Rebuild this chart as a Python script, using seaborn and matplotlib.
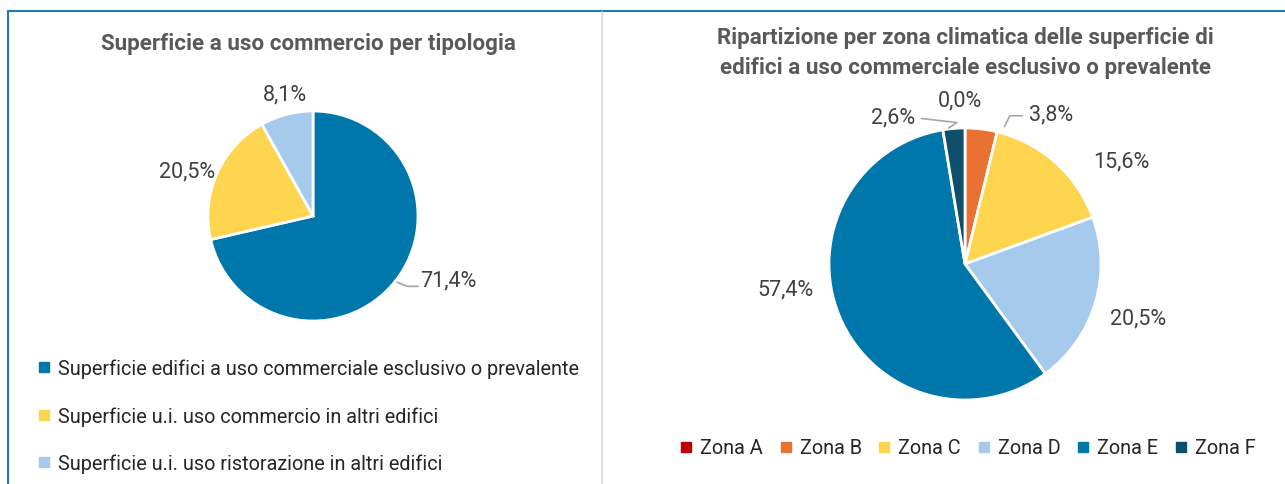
import numpy as np
import seaborn as sns
import matplotlib.pyplot as plt
from matplotlib.lines import Line2D

# -----------------------
# Data
# -----------------------
tipo_labels = [
    "Superficie edifici a uso commerciale esclusivo o prevalente",
    "Superficie u.i. uso commercio in altri edifici",
    "Superficie u.i. uso ristorazione in altri edifici",
]
tipo_values = [71.4, 20.5, 8.1]
tipo_colors = ["#0077AB", "#FFD54F", "#A6CAEC"]

zona_labels = ["Zona A", "Zona B", "Zona C", "Zona D", "Zona E", "Zona F"]
zona_values = [0.0, 3.8, 15.6, 20.5, 57.4, 2.6]
zona_colors = ["#C00000", "#E97132", "#FFD54F", "#A6CAEC", "#0077AB", "#0E4F6B"]

# -----------------------
# Setup
# -----------------------
sns.set_theme(style="white")
plt.rcParams["font.family"] = ["Roboto", "DejaVu Sans"]
LBL = "#404040"
TTL = "#595959"
LFS = 15.5   # pie labels
GFS = 14.3   # legend
TFS = 16.1   # titles


def pct(v):
    return f"{v:.1f}".replace(".", ",") + "%"


fig = plt.figure(figsize=(12.85, 4.85), dpi=100)

# frame lines
fig.add_artist(Line2D([8 / 1285, 1], [1 - 12 / 485] * 2, color="#1A7DB8", lw=1.5))
fig.add_artist(Line2D([8 / 1285] * 2, [0, 1 - 12 / 485], color="#1A7DB8", lw=1.5))
fig.add_artist(Line2D([602 / 1285] * 2, [0, 1 - 13 / 485], color="#D9D9D9", lw=1.2))

# -----------------------
# Left pie
# -----------------------
ax1 = fig.add_axes([208 / 1285, (485 - 322) / 485, 210 / 1285, 210 / 485])
wedges1, _ = ax1.pie(tipo_values, colors=tipo_colors, startangle=90, counterclock=False,
                     wedgeprops=dict(edgecolor="white", linewidth=2))
ax1.set_xlim(-1, 1)
ax1.set_ylim(-1, 1)
ax1.set_aspect("equal")
ax1.axis("off")

# label positions (radius units)
pos1 = [(1.02, -0.61), (-1.2, 0.43), (-0.27, 1.16)]
for i, (v, p) in enumerate(zip(tipo_values, pos1)):
    if i == 0:
        ax1.plot([0.80, 0.90, 1.0], [-0.63, -0.67, -0.67], color="#A6A6A6", lw=1.2,
                 clip_on=False)
        ax1.text(p[0], p[1], pct(v), ha="left", va="center", fontsize=LFS, color=LBL)
    else:
        ax1.text(p[0], p[1], pct(v), ha="center", va="center", fontsize=LFS, color=LBL)

fig.text(308 / 1285, 1 - 44 / 485, "Superficie a uso commercio per tipologia",
         ha="center", va="center", fontsize=TFS, fontweight="bold", color=TTL)

h1 = [Line2D([], [], marker="s", ls="", markersize=6.5, color=c) for c in tipo_colors]
fig.legend(h1, tipo_labels, loc="upper left", bbox_to_anchor=(28 / 1285, 1 - 350 / 485),
           frameon=False, fontsize=GFS, labelspacing=1.4, handlelength=0.6,
           handletextpad=0.4, borderpad=0)

# -----------------------
# Right pie
# -----------------------
ax2 = fig.add_axes([829 / 1285, (485 - 401) / 485, 272 / 1285, 272 / 485])
wedges2, _ = ax2.pie(zona_values, colors=zona_colors, startangle=90, counterclock=False,
                     wedgeprops=dict(edgecolor="white", linewidth=2))
ax2.set_xlim(-1, 1)
ax2.set_ylim(-1, 1)
ax2.set_aspect("equal")
ax2.axis("off")

pos2 = [(-0.04, 1.21), (0.63, 1.10), (1.15, 0.76), (1.27, -0.40), (-1.32, -0.18), (-0.53, 1.08)]
for i, (v, p) in enumerate(zip(zona_values, pos2)):
    ax2.text(p[0], p[1], pct(v), ha="center", va="center", fontsize=LFS, color=LBL)

# leader lines
ax2.plot([-0.32, -0.06, -0.12], [1.07, 1.04, 1.0], color="#A6A6A6", lw=1.2, clip_on=False)
ax2.plot([0.42, 0.33, 0.29], [1.09, 1.09, 1.01], color="#A6A6A6", lw=1.2, clip_on=False)

fig.text(965 / 1285, 1 - 38 / 485, "Ripartizione per zona climatica delle superficie di",
         ha="center", va="center", fontsize=TFS, fontweight="bold", color=TTL)
fig.text(965 / 1285, 1 - 68 / 485, "edifici a uso commerciale esclusivo o prevalente",
         ha="center", va="center", fontsize=TFS, fontweight="bold", color=TTL)

h2 = [Line2D([], [], marker="s", ls="", markersize=6.5, color=c) for c in zona_colors]
fig.legend(h2, zona_labels, loc="center", bbox_to_anchor=(968 / 1285, 1 - 449 / 485),
           ncol=6, frameon=False, fontsize=GFS, handlelength=0.6, handletextpad=0.4,
           columnspacing=0.85, borderpad=0)

fig.savefig("out.png", dpi=100)
